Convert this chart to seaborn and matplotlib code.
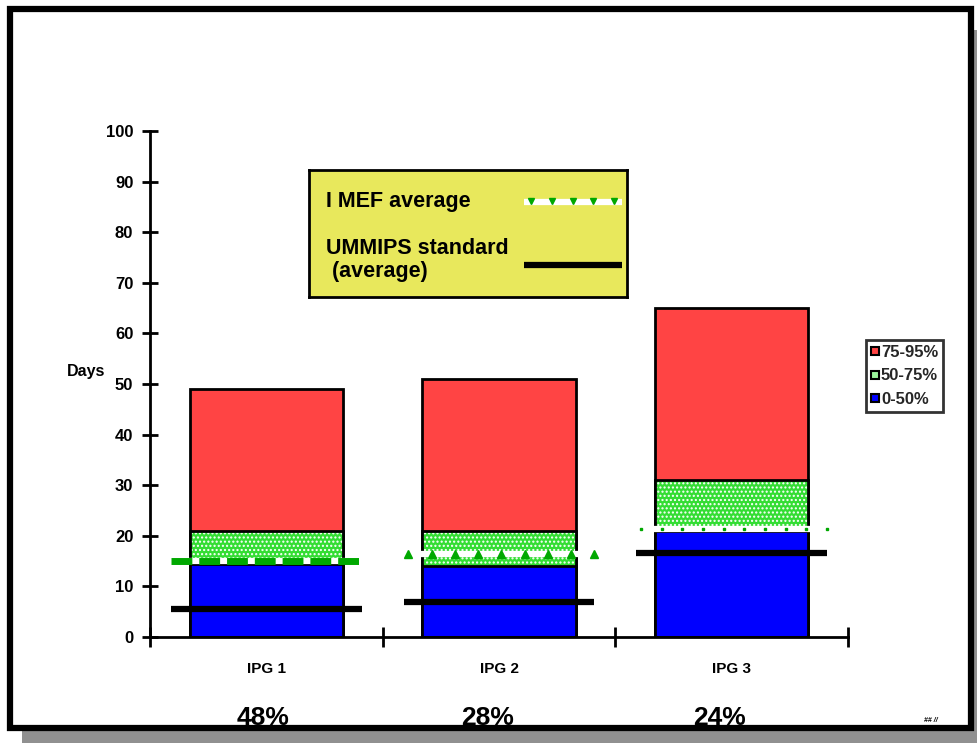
import numpy as np
import pandas as pd
import seaborn as sns
import matplotlib.pyplot as plt
from matplotlib.patches import Rectangle
from matplotlib.lines import Line2D

# data
groups = ["IPG 1", "IPG 2", "IPG 3"]
band_0_50 = [14.5, 14.1, 21.0]
band_50_75 = [6.5, 6.9, 10.0]
band_75_95 = [28.0, 30.0, 34.0]
mef_avg = [15.0, 16.4, 21.3]
ummips_std = [5.5, 7.0, 16.5]
shares = ["48%", "28%", "24%"]
days_ticks = [0, 10, 20, 30, 40, 50, 60, 70, 80, 90, 100]

RED = "#FF4444"
GREEN = "#33DD33"
BLUE = "#0000FF"
LINE_GREEN = "#00A800"

sns.set_theme(style="white")
plt.rcParams["font.family"] = ["Liberation Sans", "DejaVu Sans"]
plt.rcParams["hatch.color"] = "#D8FFD8"
plt.rcParams["hatch.linewidth"] = 1.0

df = pd.DataFrame({"group": groups, "low": band_0_50, "mid": band_50_75, "high": band_75_95})
df["c_low"] = df["low"]
df["c_mid"] = df["low"] + df["mid"]
df["c_high"] = df["c_mid"] + df["high"]

fig = plt.figure(figsize=(9.77, 7.43), dpi=100)

# page frame with drop shadow
fig.patches.append(Rectangle((22 / 977, 0), 955 / 977, 713 / 743, transform=fig.transFigure,
                             facecolor="#909090", edgecolor="none", zorder=-3))
fig.patches.append(Rectangle((10 / 977, 15 / 743), 961 / 977, 719 / 743, transform=fig.transFigure,
                             facecolor="white", edgecolor="black", lw=4.5, zorder=-2))

ax = fig.add_axes([150 / 977, 106 / 743, 698 / 977, 506 / 743])
ax.patch.set_alpha(0)

sns.barplot(data=df, x="group", y="c_high", color=RED, saturation=1, width=0.66,
            edgecolor="black", linewidth=2, ax=ax)
sns.barplot(data=df, x="group", y="c_mid", color=GREEN, saturation=1, width=0.66,
            hatch="....", edgecolor="white", linewidth=0, ax=ax)
sns.barplot(data=df, x="group", y="c_mid", fill=False, saturation=1, width=0.66,
            edgecolor="black", linewidth=2, ax=ax)
sns.barplot(data=df, x="group", y="c_low", color=BLUE, saturation=1, width=0.66,
            edgecolor="black", linewidth=2, ax=ax)

# reference lines per group
half = 0.41
for i, (m, u) in enumerate(zip(mef_avg, ummips_std)):
    x0, x1 = i - half, i + half
    ax.plot([x0, x1], [u, u], color="black", lw=4.5, solid_capstyle="butt", zorder=5)
    ax.plot([x0, x1], [m, m], color="white", lw=4.5, solid_capstyle="butt", zorder=5)
    if i == 0:
        ax.plot([x0, x1], [m, m], color=LINE_GREEN, lw=5, dashes=(3, 1.0), zorder=6)
    elif i == 1:
        xs = np.linspace(x0 + 0.02, x1, 9)
        ax.plot(xs, [m] * len(xs), ls="none", marker="^", ms=6, color=LINE_GREEN, zorder=6)
    else:
        xs = np.linspace(x0 + 0.02, x1, 10)
        ax.plot(xs, [m] * len(xs), ls="none", marker="s", ms=2, color=LINE_GREEN, zorder=6)

ax.set_xlim(-0.5, 2.5)
ax.set_yticks(days_ticks)
ax.set_xticks([-0.5, 0.5, 1.5, 2.5], minor=True)
ax.tick_params(axis="x", which="major", bottom=False, length=0, pad=18)
ax.tick_params(axis="x", which="minor", bottom=True, direction="inout", length=14, width=2, color="black")
ax.tick_params(axis="y", left=True, direction="inout", length=12, width=2, color="black", pad=6)
for lab in ax.get_xticklabels():
    lab.set_fontweight("bold")
    lab.set_fontsize(11)
    lab.set_color("black")
for lab in ax.get_yticklabels():
    lab.set_fontweight("bold")
    lab.set_fontsize(12)
    lab.set_color("black")
ax.set_xlabel("")
ax.set_ylabel("Days", rotation=0, fontsize=11.5, fontweight="bold", color="black")
ax.yaxis.set_label_coords(-0.092, 0.51)
sns.despine(ax=ax)
for s in ("left", "bottom"):
    ax.spines[s].set_linewidth(2)
    ax.spines[s].set_color("black")
ax.set_ylim(-0.01, 100)

# yellow line legend
lg = fig.add_axes([309 / 977, 446 / 743, 318 / 977, 127 / 743])
lg.set_xlim(0, 318)
lg.set_ylim(127, 0)
lg.set_xticks([])
lg.set_yticks([])
lg.set_facecolor("#E8E85C")
for s in lg.spines.values():
    s.set_linewidth(2)
    s.set_color("black")
lg.text(17, 31, "I MEF average", fontsize=15.5, fontweight="bold", va="center", color="black")
lg.text(17, 79, "UMMIPS standard", fontsize=15.5, fontweight="bold", va="center", color="black")
lg.text(17, 101, " (average)", fontsize=15.5, fontweight="bold", va="center", color="black")
lg.plot([215, 313], [32, 32], color="white", lw=4.5, solid_capstyle="butt")
lg.plot(np.linspace(222, 305, 5), [31] * 5, ls="none", marker="v", ms=4, color=LINE_GREEN)
lg.plot([215, 313], [95, 95], color="black", lw=4.5, solid_capstyle="butt")

# band legend
handles = [
    Line2D([], [], ls="none", marker="s", ms=6, mfc=RED, mec="black", mew=1.5),
    Line2D([], [], ls="none", marker="s", ms=6, mfc="#9CF59C", mec="black", mew=1.5),
    Line2D([], [], ls="none", marker="s", ms=6, mfc=BLUE, mec="black", mew=1.5),
]
leg = fig.legend(handles, ["75-95%", "50-75%", "0-50%"], loc="upper left",
                 bbox_to_anchor=(866 / 977, 1 - 340 / 743), fancybox=False, frameon=True,
                 handlelength=0.5, handletextpad=0.1, borderpad=0.3, labelspacing=0.5,
                 borderaxespad=0, prop={"weight": "bold", "size": 12, "stretch": "condensed"})
leg.get_frame().set_edgecolor("black")
leg.get_frame().set_linewidth(2)

# shares under each group
share_x = [263, 488, 720]
for x, s in zip(share_x, shares):
    t = fig.text(x / 977, 1 - 718 / 743, s, ha="center", va="center", fontsize=19,
                 fontweight="bold", color="black")
    t.set_fontstretch("condensed")
fig.text(931 / 977, 1 - 720 / 743, "## //", fontsize=5, fontweight="bold", style="italic",
         ha="center", va="center", color="black")

fig.savefig("out.png", dpi=100)
